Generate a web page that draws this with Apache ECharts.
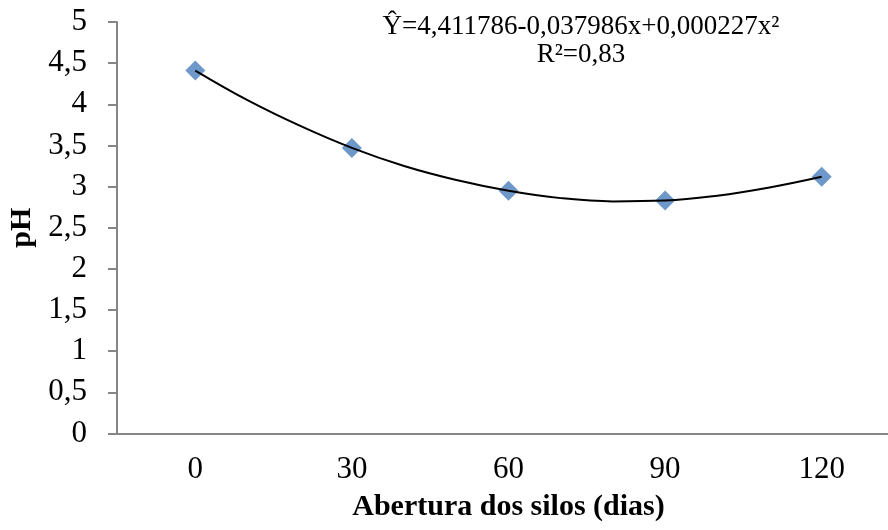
<!DOCTYPE html>
<html>
<head>
<meta charset="utf-8">
<script src="https://cdn.jsdelivr.net/npm/echarts@6/dist/echarts.min.js"></script>
<style>
    html, body { margin: 0; padding: 0; background: #fff; }
    #chart { width: 888px; height: 530px; }
</style>
</head>
<body>
<div id="chart"></div>
<script>
// dias de abertura e pH observado
var dias = [0, 30, 60, 90, 120];
var diasLabels = ["0", "30", "60", "90", "120"];
var phObs = [4.41, 3.47, 2.95, 2.83, 3.12];
// linha de tendência (a cada 10 dias)
var curvaDias = [0, 10, 20, 30, 40, 50, 60, 70, 80, 90, 100, 110, 120];
var curvaPh = [4.41, 4.05, 3.74, 3.47, 3.25, 3.08, 2.95, 2.86, 2.82, 2.83, 2.89, 2.99, 3.12];

var serif = "'Liberation Serif', 'Times New Roman', serif";
var axisCor = "#868686";

var myChart = echarts.init(document.getElementById("chart"));

var pontos = [];
for (var i = 0; i < dias.length; i++) {
    pontos.push([dias[i], phObs[i]]);
}
var curva = [];
for (var j = 0; j < curvaDias.length; j++) {
    curva.push([curvaDias[j], curvaPh[j]]);
}

var option = {
    animation: false,
    backgroundColor: "#fff",
    grid: {
        left: 117,
        top: 22,
        width: 783,
        height: 411.5,
        outerBoundsMode: "none"
    },
    xAxis: [{
        type: "category",
        data: diasLabels,
        boundaryGap: true,
        name: "Abertura dos silos (dias)",
        nameLocation: "middle",
        nameGap: 59,
        nameTextStyle: {
            fontFamily: serif,
            fontSize: 30,
            fontWeight: "bold",
            color: "#000"
        },
        axisLine: { lineStyle: { color: axisCor, width: 2 } },
        axisTick: { show: false },
        axisLabel: {
            margin: 21,
            fontFamily: serif,
            fontSize: 31,
            color: "#000"
        },
        splitLine: { show: false }
    }, {
        // eixo numérico escondido para posicionar pontos e curva
        type: "value",
        min: -15,
        max: 135,
        show: false
    }],
    yAxis: {
        type: "value",
        min: 0,
        max: 5,
        interval: 0.5,
        name: "pH",
        nameLocation: "middle",
        nameRotate: 90,
        nameGap: 71,
        nameTextStyle: {
            fontFamily: serif,
            fontSize: 30,
            fontWeight: "bold",
            color: "#000"
        },
        axisLine: { show: true, onZero: false, lineStyle: { color: axisCor, width: 2 } },
        axisTick: { show: true, inside: false, length: 9, lineStyle: { color: axisCor, width: 2 } },
        axisLabel: {
            margin: 30,
            fontFamily: serif,
            fontSize: 31,
            color: "#000",
            formatter: function (v) {
                return String(v).replace(".", ",");
            }
        },
        splitLine: { show: false }
    },
    graphic: [{
        type: "text",
        x: 581,
        y: 13,
        style: {
            text: "Ŷ=4,411786-0,037986x+0,000227x²",
            font: "27px " + serif,
            fill: "#000",
            align: "center"
        }
    }, {
        type: "text",
        x: 581,
        y: 41,
        style: {
            text: "R²=0,83",
            font: "27px " + serif,
            fill: "#000",
            align: "center"
        }
    }],
    series: [{
        name: "pH",
        type: "scatter",
        xAxisIndex: 1,
        data: pontos,
        symbol: "diamond",
        symbolSize: 20,
        itemStyle: { color: "#4a7ebb" },
        z: 2
    }, {
        name: "tendência",
        type: "line",
        xAxisIndex: 1,
        data: curva,
        smooth: 0.4,
        showSymbol: false,
        lineStyle: { color: "#000", width: 2 },
        z: 3
    }]
};
myChart.setOption(option);
</script>
</body>
</html>
